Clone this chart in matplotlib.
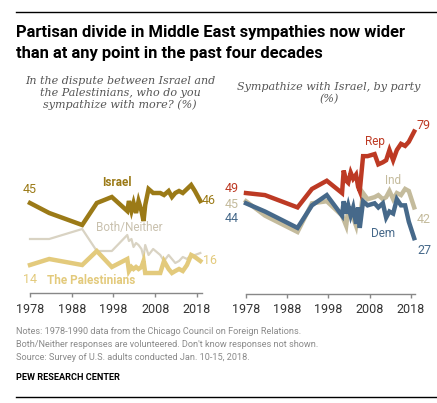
import matplotlib
matplotlib.use('Agg')
import matplotlib.pyplot as plt
from matplotlib.lines import Line2D

# survey dates (fractional years), shared by both panels
years = [1978, 1982.6, 1990.5, 1994, 1997.6, 2001.3, 2001.7, 2002.3, 2002.8,
         2003.4, 2004.0, 2004.7, 2005.2, 2005.6, 2006.4, 2007.5, 2009.2,
         2010.1, 2011.2, 2012.0, 2012.8, 2013.7, 2014.6, 2015.6, 2016.6,
         2017.5, 2018.8]

israel = [45, 40, 34, 45, 48, 41, 46, 41, 45, 40, 46, 41, 36, 44, 52, 50, 50,
          49, 51, 48, 50, 51, 50, 52, 54, 51, 46]
palestinians = [14, 17, 14, 21, 13, 17, 11, 13, 12, 13, 12, 13, 16, 10, 10, 10,
                10, 16, 12, 10, 11, 12, 11, 14, 19, 18, 16]
both_neither = [27, 27, 32, 21, 21, 29, 26, 27, 23, 25, 24, 22, 18, 24, 19, 22,
                19, 16, 19, 17, 15, 16, 18, 17, 19, 19, 20]

rep = [49, 48, 42, 51, 55, 49, 60, 55, 54, 59, 56, 58, 52, 50, 67, 67, 68, 63,
       64, 65, 70, 65, 70, 73, 72, 74, 79]
ind = [45, 38, 30, 44, 45, 38, 36, 33, 41, 38, 37, 33, 40, 36, 49, 46, 47, 48,
       46, 47, 50, 46, 49, 48, 51, 50, 42]
dem = [44, 40, 32, 43, 48, 38, 45, 39, 43, 38, 42, 34, 42, 32, 45, 43, 44, 42,
       44, 37, 40, 39, 46, 43, 43, 35, 27]

tick_years = [1978, 1988, 1998, 2008, 2018]

ISR = '#9b7a17'
PAL = '#e3ca7c'
BN = '#d9d3c3'
REP = '#bd3a24'
IND = '#c4bb9c'
DEM = '#46698a'

W, H = 437, 403
plt.rcParams['font.family'] = ['Roboto', 'DejaVu Sans']

fig = plt.figure(figsize=(W / 100, H / 100), dpi=100)


def px(x, y):
    return x / W, 1 - y / H


def style_axes(ax, xmax):
    ax.set_xlim(1978, xmax)
    ax.set_ylim(0, 100)
    for s in ['top', 'right', 'left']:
        ax.spines[s].set_visible(False)
    ax.spines['bottom'].set_color('#888888')
    ax.spines['bottom'].set_linewidth(1)
    ax.set_yticks([])
    ax.set_xticks(tick_years)
    ax.set_xticklabels([str(y) for y in tick_years])
    ax.tick_params(axis='x', direction='out', length=3, width=1, color='#888888',
                   labelsize=9, labelcolor='#333333', pad=4)
    ax.patch.set_alpha(0)


# left panel
ax1 = fig.add_axes([30 / W, (H - 293) / H, 172 / W, 200 / H])
style_axes(ax1, 2019.2)
ax1.plot(years, both_neither, color=BN, lw=1.6, clip_on=False)
ax1.plot(years, palestinians, color=PAL, lw=3.2, clip_on=False, solid_joinstyle='miter')
ax1.plot(years, israel, color=ISR, lw=3.2, clip_on=False, solid_joinstyle='miter')

ax1.annotate(str(israel[0]), (years[0], israel[0]), xytext=(0, 5), textcoords='offset points',
             ha='center', va='bottom', fontsize=9, color=ISR)
ax1.annotate(str(israel[-1]), (years[-1], israel[-1]), xytext=(1, 0), textcoords='offset points',
             ha='left', va='center', fontsize=9, color=ISR)
ax1.annotate(str(palestinians[0]), (years[0], palestinians[0]), xytext=(0, -6),
             textcoords='offset points', ha='center', va='top', fontsize=9, color=PAL)
ax1.annotate(str(palestinians[-1]), (years[-1], palestinians[-1]), xytext=(2, 0),
             textcoords='offset points', ha='left', va='center', fontsize=9, color=PAL)
ax1.text(1998.9, 55.5, 'Israel', ha='center', va='center', fontsize=8.5,
         fontweight='bold', color=ISR)
ax1.text(2001.7, 33, 'Both/Neither', ha='center', va='center', fontsize=8.5, color='#c9c1ae')
ax1.text(1992.6, 6, 'The Palestinians', ha='center', va='center', fontsize=8.5,
         fontweight='bold', color=PAL)

# right panel
ax2 = fig.add_axes([246 / W, (H - 293.5) / H, 169 / W, 205 / H])
style_axes(ax2, 2019)
ax2.plot(years, ind, color=IND, lw=3.2, clip_on=False, solid_joinstyle='miter')
ax2.plot(years, dem, color=DEM, lw=3.2, clip_on=False, solid_joinstyle='miter')
ax2.plot(years, rep, color=REP, lw=3.2, clip_on=False, solid_joinstyle='miter')

ax2.annotate(str(rep[0]), (years[0], rep[0]), xytext=(-5, 3), textcoords='offset points',
             ha='right', va='center', fontsize=9, color=REP)
ax2.annotate(str(ind[0]), (years[0], ind[0]), xytext=(-5, -2), textcoords='offset points',
             ha='right', va='center', fontsize=9, color=IND)
ax2.annotate(str(dem[0]), (years[0], dem[0]), xytext=(-5, -11), textcoords='offset points',
             ha='right', va='center', fontsize=9, color=DEM)
ax2.annotate(str(rep[-1]), (years[-1], rep[-1]), xytext=(2, 4), textcoords='offset points',
             ha='left', va='center', fontsize=9, color=REP)
ax2.annotate(str(ind[-1]), (years[-1], ind[-1]), xytext=(2, -9), textcoords='offset points',
             ha='left', va='center', fontsize=9, color=IND)
ax2.annotate(str(dem[-1]), (years[-1], dem[-1]), xytext=(2, -9), textcoords='offset points',
             ha='left', va='center', fontsize=9, color=DEM)
ax2.text(2009.3, 74, 'Rep', ha='center', va='center', fontsize=8.5, color=REP)
ax2.text(2013.6, 55, 'Ind', ha='center', va='center', fontsize=8.5, color=IND)
ax2.text(2011.2, 29.5, 'Dem', ha='center', va='center', fontsize=8.5, color=DEM)

# title, subtitles
fig.add_artist(Line2D([16 / W, 1], [1 - 12 / H] * 2, color='black', lw=1))
fig.text(*px(16, 37), 'Partisan divide in Middle East sympathies now wider',
         fontsize=11.9, fontweight='bold', va='baseline')
fig.text(*px(16, 58), 'than at any point in the past four decades',
         fontsize=11.9, fontweight='bold', va='baseline')
fig.text(*px(120, 93), 'In the dispute between Israel and\nthe Palestinians, who do you\n'
         'sympathize with more? (%)', ha='center', va='center', fontsize=8,
         family='DejaVu Serif', style='italic', color='#555555', linespacing=1.15)
fig.text(*px(329, 93), 'Sympathize with Israel, by party\n(%)', ha='center', va='center',
         fontsize=8, family='DejaVu Serif', style='italic', color='#555555',
         linespacing=1.15)

# notes
fig.text(*px(16, 334), 'Notes: 1978-1990 data from the Chicago Council on Foreign Relations.',
         fontsize=6.6, color='#8a8a8a', va='baseline')
fig.text(*px(16, 347), "Both/Neither responses are volunteered. Don't know responses not shown.",
         fontsize=6.6, color='#8a8a8a', va='baseline')
fig.text(*px(16, 360), 'Source: Survey of U.S. adults conducted Jan. 10-15, 2018.',
         fontsize=6.6, color='#8a8a8a', va='baseline')
fig.text(*px(16, 380), 'PEW RESEARCH CENTER', fontsize=6.6, fontweight='bold',
         color='black', va='baseline')
fig.add_artist(Line2D([16 / W, 1], [1 - 397 / H] * 2, color='black', lw=1))

fig.savefig('out.png', dpi=100)
